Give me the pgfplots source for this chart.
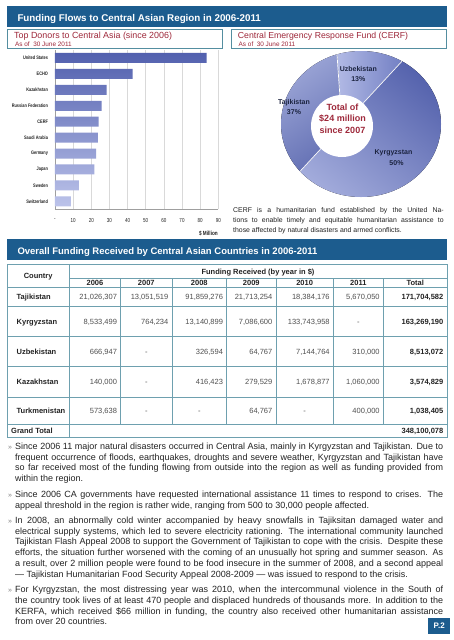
\documentclass[border=0pt]{standalone}
\usepackage{fontspec}
\setmainfont{Liberation Sans}
\newfontfamily\narrow[FakeStretch=0.78]{Liberation Sans}
\usepackage{pgfplots}
\pgfplotsset{compat=1.18}
\definecolor{banner}{RGB}{28,92,142}
\definecolor{titlered}{RGB}{158,40,58}
\definecolor{boxline}{RGB}{84,142,160}
\definecolor{tline}{RGB}{110,160,175}
\definecolor{barTop}{RGB}{82,96,174}
\definecolor{barBot}{RGB}{188,195,234}
\definecolor{txt}{RGB}{35,35,35}
\definecolor{numc}{RGB}{80,80,80}
\definecolor{lab}{RGB}{28,36,64}
\definecolor{uzL}{RGB}{180,188,230}
\definecolor{uzR}{RGB}{100,114,188}
\definecolor{kyD}{RGB}{80,94,170}
\definecolor{kyL}{RGB}{180,188,230}
\definecolor{tjD}{RGB}{90,103,174}
\definecolor{tjL}{RGB}{188,196,234}
\newcommand\fs[2]{\fontsize{#1}{#2}\selectfont}
\newcommand\tabfont{\fs{7.5}{9}}
% table helpers: right-aligned value, centered dash, bold total
\newcommand\tv[3]{\node[anchor=base east,inner sep=0,font=\tabfont,text=numc] at ({#1-3.5},-#2) {#3};}
\newcommand\td[3]{\node[anchor=base,inner sep=0,font=\tabfont,text=numc] at (#1,-#2) {#3};}
\newcommand\tb[3]{\node[anchor=base east,inner sep=0,font=\tabfont\bfseries,text=txt] at ({#1-3.5},-#2) {#3};}
\newcommand\tn[2]{\node[anchor=base west,inner sep=0,font=\tabfont\bfseries,text=txt] at (16.5,-#1) {#2};}
\begin{document}
\begin{tikzpicture}[x=1pt,y=1pt]
\useasboundingbox (0,0) rectangle (453,-640);
\fill[white] (0,0) rectangle (453,-640);
% ---------- banner 1
\fill[banner] (7,-6) rectangle (446.5,-26.5);
\node[anchor=base west,inner sep=0,text=white,font=\fs{9.8}{11}\bfseries] at (17.3,-21.5) {Funding Flows to Central Asian Region in 2006-2011};
% ---------- subtitle boxes
\draw[boxline,line width=0.8pt] (7,-29.7) rectangle (222,-48.3);
\node[anchor=base west,inner sep=0,text=titlered,font=\fs{8.9}{10}] at (14,-38) {Top Donors to Central Asia (since 2006)};
\node[anchor=base west,inner sep=0,text=titlered,font=\fs{6.4}{7}] at (15,-46) {As of\ \ 30 June 2011};
\draw[boxline,line width=0.8pt] (231.5,-29.7) rectangle (446.5,-48.3);
\node[anchor=base west,inner sep=0,text=titlered,font=\fs{8.7}{10}] at (237.7,-38.6) {Central Emergency Response Fund (CERF)};
\node[anchor=base west,inner sep=0,text=titlered,font=\fs{6.4}{7}] at (238.5,-46) {As of\ \ 30 June 2011};
% ---------- bar chart: top donors ($ million)
\begin{axis}[
  at={(55pt,-209.3pt)}, anchor=south west,
  scale only axis, width=163.3pt, height=159.3pt,
  xbar, bar width=10pt,
  xmin=0, xmax=90, ymin=-0.5, ymax=9.5,
  axis x line=bottom, axis y line=left,
  axis line style={-, draw=gray!75, line width=0.6pt},
  xtick={0,10,...,90}, xticklabels={-,10,20,30,40,50,60,70,80,90},
  ytick={0,...,9},
  yticklabels={Switzerland,Sweden,Japan,Germany,Saudi Arabia,CERF,Russian Federation,Kazakhstan,ECHO,United States},
  xmajorgrids, major grid style={draw=gray!30, line width=0.5pt},
  major tick length=0pt,
  yticklabel style={font=\narrow\bfseries\fs{5}{6}, text=txt, xshift=-3.5pt},
  xticklabel style={font=\narrow\fs{5.8}{6}, text=txt, yshift=-5.5pt},
]
\addplot[draw=none, top color=barTop, bottom color=barBot] coordinates {
  (83.6,9) (42.8,8) (28.5,7) (25.7,6) (24.0,5) (23.6,4) (22.6,3) (21.7,2) (13.2,1) (8.8,0)};
\end{axis}
\node[anchor=base east,inner sep=0,font=\narrow\bfseries\fs{6}{7},text=txt] at (218,-235) {\$ Million};
% ---------- donut: CERF shares (%)
\def\pU{13}\def\pK{50}\def\pT{37}
\pgfmathsetmacro\aA{94}
\pgfmathsetmacro\aB{\aA-3.6*\pU}
\pgfmathsetmacro\aC{\aB-3.6*\pK}
\pgfmathsetmacro\aD{\aC-3.6*\pT}
\begin{axis}[at={(361pt,-124pt)}, anchor=center, x=1pt, y=1pt,
  xmin=-110, xmax=110, ymin=-110, ymax=110, hide axis, clip=false]
\begin{scope}
\clip (axis cs:0,0) ellipse [x radius=80pt, y radius=73pt];
\fill[left color=uzL, right color=uzR] (axis cs:-19,-2) -- ++(\aA:110pt) arc[start angle=\aA, end angle=\aB, radius=110pt] -- cycle;
\fill[top color=kyD, bottom color=kyL, shading angle=-40] (axis cs:-19,-2) -- ++(\aB:110pt) arc[start angle=\aB, end angle=\aC, radius=110pt] -- cycle;
\fill[top color=tjL, bottom color=tjD, shading angle=35] (axis cs:-19,-2) -- ++(\aC:110pt) arc[start angle=\aC, end angle=\aD, radius=110pt] -- cycle;
\draw[white,line width=0.7pt] (axis cs:-19,-2) -- ++(\aA:110pt);
\draw[white,line width=0.7pt] (axis cs:-19,-2) -- ++(\aB:110pt);
\draw[white,line width=0.7pt] (axis cs:-19,-2) -- ++(\aC:110pt);
\end{scope}
\fill[white] (axis cs:-19,-2) circle[radius=31pt];
\end{axis}
\begin{scope}[every node/.style={inner sep=0,font=\fs{7}{8}\bfseries,text=lab}]
\node at (358.3,-69) {Uzbekistan};
\node at (358.3,-78.7) {13\%};
\node at (294,-102.3) {Tajikistan};
\node at (294,-112.3) {37\%};
\node at (393.5,-153.3) {Kyrgyzstan};
\node at (396.5,-163) {50\%};
\end{scope}
\begin{scope}[every node/.style={inner sep=0,font=\fs{9}{10}\bfseries,text=titlered}]
\node at (342.5,-107.3) {Total of};
\node at (342.5,-118.8) {\$24 million};
\node at (342.5,-130) {since 2007};
\end{scope}
\node[anchor=north west,inner sep=0,text width=210.5pt,align=justify,font=\fs{6.9}{9.7},text=txt] at (233,-205.8)
 {\strut CERF is a humanitarian fund established by the United Na-\linebreak tions to enable timely and equitable humanitarian assistance to\linebreak those affected by natural disasters and armed conflicts.};
% ---------- banner 2
\fill[banner] (7,-239) rectangle (446.5,-260);
\node[anchor=base west,inner sep=0,text=white,font=\fs{9.5}{11}\bfseries] at (17.3,-254.5) {Overall Funding Received by Central Asian Countries in 2006-2011};
% ---------- table grid
\begin{scope}[tline,line width=0.7pt]
\draw (69.3,-278) -- (447,-278);
\foreach \yy in {287.5,306.5,336,366,397,424} \draw (7,-\yy) -- (447,-\yy);
\draw (69.3,-264.5) -- (69.3,-437);
\foreach \xx in {120.7,172,226.7,276,333.3,383.3} \draw (\xx,-278) -- (\xx,-424);
\draw[line width=1pt] (7,-264.5) rectangle (447,-437);
\end{scope}
\node[anchor=base,inner sep=0,font=\tabfont\bfseries,text=txt] at (38.2,-278.8) {Country};
\node[anchor=base,inner sep=0,font=\tabfont\bfseries,text=txt] at (258,-274) {Funding Received (by year in \$)};
\foreach \cx/\yr in {95/2006,146.3/2007,199.3/2008,251.3/2009,304.6/2010,358.3/2011,415.2/Total}
  \node[anchor=base,inner sep=0,font=\tabfont\bfseries,text=txt] at (\cx,-285.4) {\yr};
% Tajikistan
\tn{299.4}{Tajikistan}
\tv{120.7}{299.4}{21,026,307}\tv{172}{299.4}{13,051,519}\tv{226.7}{299.4}{91,859,276}\tv{276}{299.4}{21,713,254}\tv{333.3}{299.4}{18,384,176}\tv{383.3}{299.4}{5,670,050}\tb{447}{299.4}{171,704,582}
% Kyrgyzstan
\tn{324.2}{Kyrgyzstan}
\tv{120.7}{324.2}{8,533,499}\tv{172}{324.2}{764,234}\tv{226.7}{324.2}{13,140,899}\tv{276}{324.2}{7,086,600}\tv{333.3}{324.2}{133,743,958}\td{358.3}{324.2}{-}\tb{447}{324.2}{163,269,190}
% Uzbekistan
\tn{354.2}{Uzbekistan}
\tv{120.7}{354.2}{666,947}\td{146.3}{354.2}{-}\tv{226.7}{354.2}{326,594}\tv{276}{354.2}{64,767}\tv{333.3}{354.2}{7,144,764}\tv{383.3}{354.2}{310,000}\tb{447}{354.2}{8,513,072}
% Kazakhstan
\tn{384.2}{Kazakhstan}
\tv{120.7}{384.2}{140,000}\td{146.3}{384.2}{-}\tv{226.7}{384.2}{416,423}\tv{276}{384.2}{279,529}\tv{333.3}{384.2}{1,678,877}\tv{383.3}{384.2}{1,060,000}\tb{447}{384.2}{3,574,829}
% Turkmenistan
\tn{413.7}{Turkmenistan}
\tv{120.7}{413.7}{573,638}\td{146.3}{413.7}{-}\td{199.3}{413.7}{-}\tv{276}{413.7}{64,767}\td{304.6}{413.7}{-}\tv{383.3}{413.7}{400,000}\tb{447}{413.7}{1,038,405}
% Grand total
\node[anchor=base west,inner sep=0,font=\tabfont\bfseries,text=txt] at (11,-433.4) {Grand Total};
\tb{447}{433.4}{348,100,078}
% ---------- bullet paragraphs
\begin{scope}[every node/.style={inner sep=0}]
\foreach \by in {449,497.3,523,592.3}
  \node[anchor=base west,font=\fs{7}{8},text=gray] at (8,-\by) {»};
\tikzset{para/.style={anchor=north west,text width=428pt,align=justify,font=\fs{9}{10.8},text=txt}}
\node[para] at (15,-441.44) {\strut Since 2006 11 major natural disasters occurred in Central Asia, mainly in Kyrgyzstan and Tajikistan. Due to\linebreak frequent occurrence of floods, earthquakes, droughts and severe weather, Kyrgyzstan and Tajikistan have\linebreak so far received most of the funding flowing from outside into the region as well as funding provided from\linebreak within the region.};
\node[para] at (15,-489.74) {\strut Since 2006 CA governments have requested international assistance 11 times to respond to crises. The\linebreak appeal threshold in the region is rather wide, ranging from 500 to 30,000 people affected.};
\node[para] at (15,-515.44) {\strut In 2008, an abnormally cold winter accompanied by heavy snowfalls in Tajiksitan damaged water and\linebreak electrical supply systems, which led to severe electricity rationing. The international community launched\linebreak Tajikistan Flash Appeal 2008 to support the Government of Tajikistan to cope with the crisis.\ \ Despite these\linebreak efforts, the situation further worsened with the coming of an unusually hot spring and summer season. As\linebreak a result, over 2 million people were found to be food insecure in the summer of 2008, and a second appeal\linebreak — Tajikistan Humanitarian Food Security Appeal 2008-2009 — was issued to respond to the crisis.};
\node[para] at (15,-584.74) {\strut For Kyrgyzstan, the most distressing year was 2010, when the intercommunal violence in the South of\linebreak the country took lives of at least 470 people and displaced hundreds of thousands more. In addition to the\linebreak KERFA, which received \$66 million in funding, the country also received other humanitarian assistance\linebreak from over 20 countries.};
\end{scope}
% ---------- page tag
\fill[banner] (428.3,-617.7) rectangle (450,-634.3);
\node[inner sep=0,text=white,font=\fs{8}{9}\bfseries] at (439.2,-626) {P.2};
\end{tikzpicture}
\end{document}
